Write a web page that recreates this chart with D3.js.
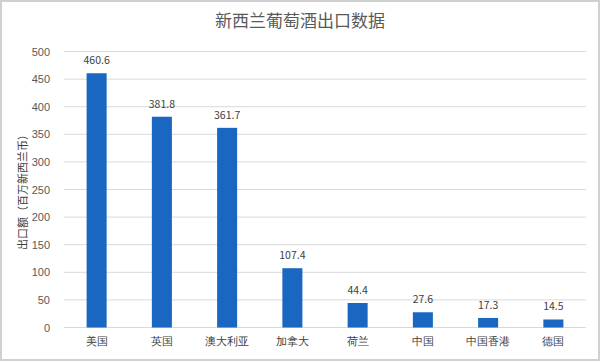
<!DOCTYPE html>
<html lang="zh">
<head>
  <meta charset="UTF-8" />
  <title>新西兰葡萄酒出口数据</title>
  <script src="https://d3js.org/d3.v7.min.js"></script>
  <style>
    body { margin: 0; background: #fff; }
    svg { font-family: "Noto Sans CJK SC", "Noto Sans", sans-serif; }
  </style>
</head>
<body>
  <div id="chart"></div>
  <script>
    const categories = ["美国", "英国", "澳大利亚", "加拿大", "荷兰", "中国", "中国香港", "德国"];
    const values = [460.6, 381.8, 361.7, 107.4, 44.4, 27.6, 17.3, 14.5];
    const yTicks = [0, 50, 100, 150, 200, 250, 300, 350, 400, 450, 500];

    const width = 600, height = 361;
    const plot = { left: 64, right: 586, top: 51.5, bottom: 327.5 };

    const svg = d3.select("#chart").append("svg")
      .attr("width", width)
      .attr("height", height);

    // frame
    svg.append("rect")
      .attr("x", 1).attr("y", 1)
      .attr("width", width - 2).attr("height", height - 2)
      .attr("fill", "#fff")
      .attr("stroke", "#d0d0d0")
      .attr("stroke-width", 2);

    const x = d3.scaleBand()
      .domain(categories)
      .range([plot.left, plot.right])
      .paddingInner(0.693)
      .paddingOuter(0.3465);

    const y = d3.scaleLinear()
      .domain([0, 500])
      .range([plot.bottom, plot.top]);

    // gridlines
    svg.append("g")
      .selectAll("line")
      .data(yTicks)
      .join("line")
      .attr("x1", plot.left)
      .attr("x2", plot.right)
      .attr("y1", d => y(d))
      .attr("y2", d => y(d))
      .attr("stroke", "#d9d9d9")
      .attr("stroke-width", 1);

    // y axis labels
    const yAxis = svg.append("g")
      .attr("transform", `translate(50,0)`)
      .call(d3.axisLeft(y).tickValues(yTicks).tickSize(0).tickPadding(0));
    yAxis.select(".domain").remove();
    yAxis.selectAll("text")
      .attr("fill", "#595959")
      .style("font-size", "11px");

    // x axis labels
    const xAxis = svg.append("g")
      .attr("transform", `translate(0,${y(0)})`)
      .call(d3.axisBottom(x).tickSize(0).tickPadding(10));
    xAxis.select(".domain").remove();
    xAxis.selectAll("text")
      .attr("fill", "#404040")
      .style("font-size", "11px");

    // bars
    svg.append("g")
      .selectAll("rect")
      .data(values)
      .join("rect")
      .attr("x", (d, i) => x(categories[i]))
      .attr("y", d => y(d))
      .attr("width", x.bandwidth())
      .attr("height", d => y(0) - y(d))
      .attr("fill", "#1a67c1");

    // value labels
    svg.append("g")
      .selectAll("text")
      .data(values)
      .join("text")
      .attr("x", (d, i) => x(categories[i]) + x.bandwidth() / 2)
      .attr("y", d => y(d) - 9)
      .attr("text-anchor", "middle")
      .attr("fill", "#404040")
      .style("font-size", "10.5px")
      .text(d => d);

    // title
    svg.append("text")
      .attr("x", 300)
      .attr("y", 27)
      .attr("text-anchor", "middle")
      .attr("fill", "#595959")
      .style("font-size", "17px")
      .text("新西兰葡萄酒出口数据");

    // y axis title
    svg.append("text")
      .attr("transform", `translate(27,${(plot.top + plot.bottom) / 2}) rotate(-90)`)
      .attr("text-anchor", "middle")
      .attr("fill", "#404040")
      .style("font-size", "11px")
      .text("出口额（百万新西兰币）");
  </script>
</body>
</html>
